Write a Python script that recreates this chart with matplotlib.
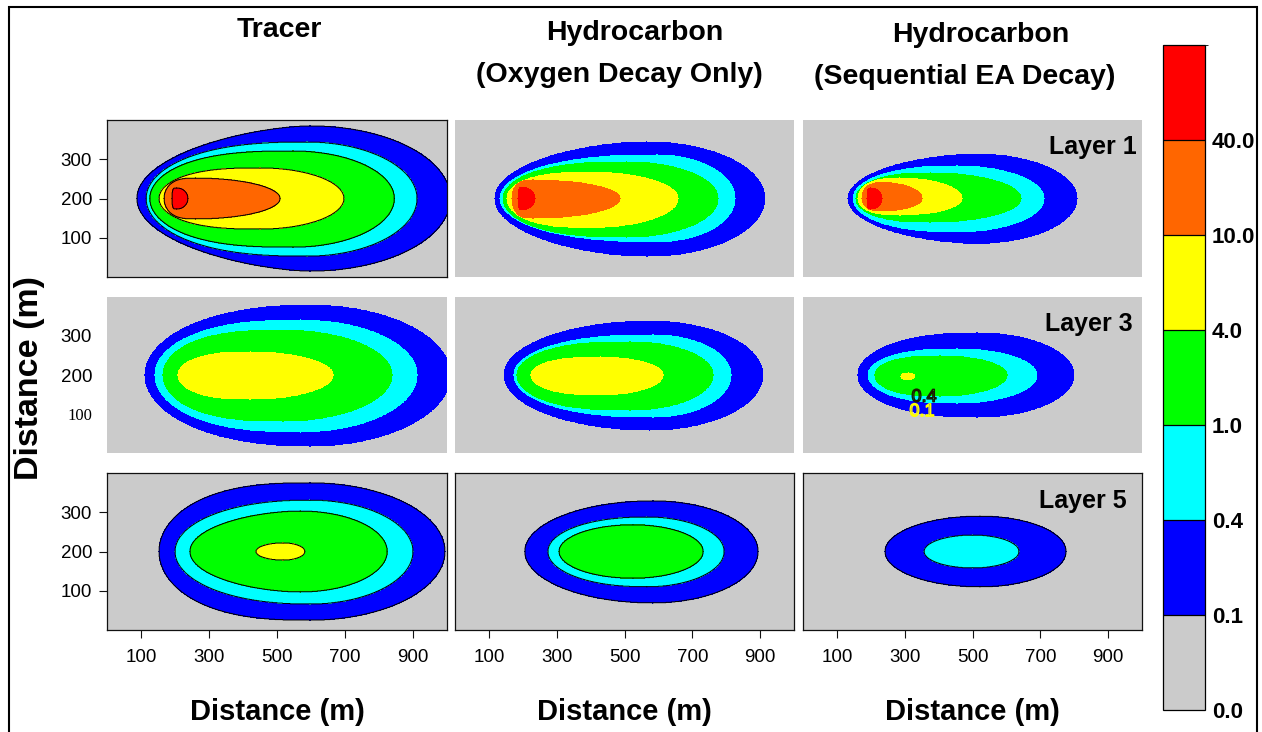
import numpy as np
import matplotlib
matplotlib.use("Agg")
import matplotlib.pyplot as plt
from matplotlib.colors import ListedColormap, BoundaryNorm
from matplotlib.colorbar import ColorbarBase
from matplotlib.patches import Rectangle
import matplotlib.patheffects as pe

plt.rcParams['font.family'] = ['Liberation Sans', 'DejaVu Sans']

# Concentration classes (mg/L) and their fill colours
BOUNDS = [0.0, 0.1, 0.4, 1.0, 4.0, 10.0, 40.0, 100.0]
BOUND_LABELS = ['0.0', '0.1', '0.4', '1.0', '4.0', '10.0', '40.0']
FILL_COLORS = ['#cbcbcb', '#0000ff', '#00ffff', '#00ff00', '#ffff00', '#ff6600', '#ff0000']

TITLE_LINES = [['Tracer'],
               ['Hydrocarbon', '(Oxygen Decay Only)'],
               ['Hydrocarbon', '(Sequential EA Decay)']]
LAYER_NAMES = ['Layer 1', 'Layer 3', 'Layer 5']
X_TICKS = [100, 300, 500, 700, 900]
Y_TICKS = [100, 200, 300]

# Plume iso-concentration outlines (m):
# (level, upgradient tip, x of widest point, downgradient tip,
#  half-width up, half-width down, centreline y, bluntness of upgradient nose)
TRACER_L1 = [(0.1, 88, 597, 1010, 185, 185, 200, 1.6),
             (0.4, 115, 588, 912, 144, 147, 200, 2.5),
             (1.0, 126, 547, 845, 121, 124, 200, 2.7),
             (4.0, 153, 450, 697, 78, 78, 200, 2.7),
             (10.0, 168, 260, 509, 52, 52, 200, 3.0),
             (40.0, 191, 205, 238, 27, 27, 200, 5.0)]
OXY_L1 = [(0.1, 118, 566, 914, 144, 147, 200, 1.8),
          (0.4, 133, 596, 826, 111, 110, 200, 2.4),
          (1.0, 142, 507, 776, 93, 98, 200, 2.6),
          (4.0, 153, 398, 658, 67, 74, 200, 2.7),
          (10.0, 168, 230, 487, 47, 50, 200, 3.0),
          (40.0, 186, 200, 236, 28, 28, 200, 5.0)]
SEQ_L1 = [(0.1, 133, 513, 808, 113, 114, 200, 1.8),
          (0.4, 148, 454, 711, 83, 85, 200, 2.4),
          (1.0, 156, 375, 643, 65, 60, 200, 2.6),
          (4.0, 162, 286, 469, 52, 42, 200, 2.8),
          (10.0, 174, 236, 351, 40, 31, 200, 3.0),
          (40.0, 189, 200, 233, 27, 27, 200, 5.0)]

TRACER_L3 = [(0.1, 112, 597, 1010, 179, 182, 200, 2.2),
             (0.4, 141, 568, 912, 141, 146, 200, 2.5),
             (1.0, 165, 518, 838, 115, 118, 200, 2.7),
             (4.0, 209, 421, 665, 59, 62, 200, 2.6)]
OXY_L3 = [(0.1, 145, 575, 908, 138, 141, 200, 2.0),
          (0.4, 174, 584, 814, 103, 108, 200, 2.4),
          (1.0, 183, 516, 761, 85, 90, 200, 2.6),
          (4.0, 224, 428, 614, 46, 51, 200, 2.6)]
SEQ_L3 = [(0.1, 162, 513, 799, 108, 108, 200, 2.3),
          (0.4, 192, 454, 690, 67, 72, 200, 2.5),
          (1.0, 212, 404, 602, 49, 54, 200, 2.6),
          (4.0, 289, 310, 330, 8, 8, 197, 5.0)]

TRACER_L5 = [(0.1, 153, 597, 994, 175, 175, 200, 2.6),
             (0.4, 200, 597, 900, 131, 134, 200, 2.2),
             (1.0, 244, 568, 824, 103, 103, 200, 1.8),
             (4.0, 438, 518, 582, 22, 22, 200, 2.0)]
OXY_L5 = [(0.1, 206, 584, 894, 129, 131, 200, 2.0),
          (0.4, 274, 566, 794, 88, 90, 200, 2.2),
          (1.0, 307, 525, 732, 68, 68, 200, 2.0)]
SEQ_L5 = [(0.1, 242, 522, 776, 90, 90, 200, 2.0),
          (0.4, 357, 501, 637, 42, 42, 200, 2.0)]

PANELS = [[TRACER_L1, OXY_L1, SEQ_L1],
          [TRACER_L3, OXY_L3, SEQ_L3],
          [TRACER_L5, OXY_L5, SEQ_L5]]
# panels drawn with black isolines and a frame
OUTLINED = {(0, 0), (2, 0), (2, 1), (2, 2)}

# Model grid
gx = np.linspace(0, 1000, 1001)
gy = np.linspace(0, 400, 401)
GX, GY = np.meshgrid(gx, gy)


def inside(x0, xc, x1, hu, hd, yc, nose):
    up = GX < xc
    t = np.where(up, (xc - GX) / max(xc - x0, 1e-6), (GX - xc) / max(x1 - xc, 1e-6))
    tt = np.clip(t, 0.0, 1.0)
    base = np.where(up, 1.0 - tt ** nose, 1.0 - tt ** 2)
    half = np.where(GY >= yc, hu, hd) * np.sqrt(np.clip(base, 0.0, None))
    return (t <= 1.0) & (np.abs(GY - yc) <= half)


def concentration(outlines):
    z = np.full(GX.shape, 0.05)
    for level, x0, xc, x1, hu, hd, yc, nose in sorted(outlines):
        z[inside(x0, xc, x1, hu, hd, yc, nose)] = level * 1.5
    return z


W, H = 1262, 732
fig = plt.figure(figsize=(W / 100, H / 100), dpi=100)

cmap = ListedColormap(FILL_COLORS)
norm = BoundaryNorm(BOUNDS, cmap.N)

col_px = [(107, 447), (455, 794), (803, 1142)]
row_px = [(120, 277), (297, 453), (473, 630)]

for r in range(3):
    for c in range(3):
        x0, x1 = col_px[c]
        y0, y1 = row_px[r]
        ax = fig.add_axes([x0 / W, 1 - y1 / H, (x1 - x0) / W, (y1 - y0) / H])
        z = concentration(PANELS[r][c])
        ax.contourf(GX, GY, z, levels=BOUNDS, cmap=cmap, norm=norm)
        framed = (r, c) in OUTLINED
        if framed:
            ax.contour(GX, GY, z, levels=BOUNDS[1:-1], colors='black', linewidths=0.7)
        ax.set_xlim(0, 1000)
        ax.set_ylim(0, 400)
        for s in ax.spines.values():
            s.set_visible(framed)
            s.set_linewidth(0.9)
            s.set_color('#111111')
        ax.tick_params(direction='out', length=5.8, width=0.8, labelsize=13.5, color='#111111')
        if r == 2:
            ax.set_xticks(X_TICKS)
            ax.tick_params(axis='x', pad=8)
        else:
            ax.set_xticks([])
        if c == 0:
            ax.set_yticks(Y_TICKS)
            if r == 1:
                ax.tick_params(axis='y', length=0, pad=10.8)
                ax.get_yticklabels()[0].set_fontfamily(['Liberation Serif'])
                ax.get_yticklabels()[0].set_fontsize(12)
            else:
                ax.tick_params(axis='y', pad=5)
        else:
            ax.set_yticks([])
        if c == 2:
            ax.text([0.985, 0.973, 0.956][r], [0.83, 0.827, 0.82][r], LAYER_NAMES[r],
                    transform=ax.transAxes, ha='right', va='center',
                    fontsize=18, fontweight='bold')
        if (r, c) == (1, 2):
            ax.text(357, 143, '0.4', ha='center', va='center', fontsize=13,
                    color=(0, 0, 0, 0),
                    path_effects=[pe.withStroke(linewidth=1.0, foreground='#1a1a00')])
            ax.text(351, 106, '0.1', ha='center', va='center', fontsize=13,
                    color=(0, 0, 0, 0),
                    path_effects=[pe.withStroke(linewidth=1.0, foreground='#ffff00')])

# Column headings
title_pos = [[(279, 30)], [(635, 33), (619, 75)], [(981, 35), (965, 77)]]
for lines, spots in zip(TITLE_LINES, title_pos):
    for line, (tx, ty) in zip(lines, spots):
        fig.text(tx / W, 1 - ty / H, line, ha='center', va='center', fontsize=20.5,
                 fontweight='bold')

# Axis titles
for c in range(3):
    xc = (col_px[c][0] + col_px[c][1]) / 2
    fig.text(xc / W, 1 - 712 / H, 'Distance (m)', ha='center', va='center',
             fontsize=21, fontweight='bold')
fig.text(30 / W, 1 - 378 / H, 'Distance (m)', ha='center', va='center', rotation=90,
         fontsize=24.5, fontweight='bold')

# Colour key
cax = fig.add_axes([1163 / W, 1 - 710 / H, 42 / W, 665 / H])
cb = ColorbarBase(cax, cmap=cmap, norm=norm, boundaries=BOUNDS, spacing='uniform',
                  ticks=BOUNDS[:-1], drawedges=True)
cb.set_ticklabels(BOUND_LABELS)
cb.outline.set_linewidth(0.9)
cb.dividers.set_linewidth(0.9)
cax.tick_params(length=0, pad=5, labelsize=16)
for lab in cax.get_yticklabels():
    lab.set_fontweight('bold')

# Surrounding frame
fig.add_artist(Rectangle((9 / W, -0.2), (1257 - 9) / W, 1.2 - 7 / H,
                         transform=fig.transFigure, fill=False, linewidth=1.5,
                         edgecolor='black', clip_on=False))

fig.savefig('out.png', dpi=100)
